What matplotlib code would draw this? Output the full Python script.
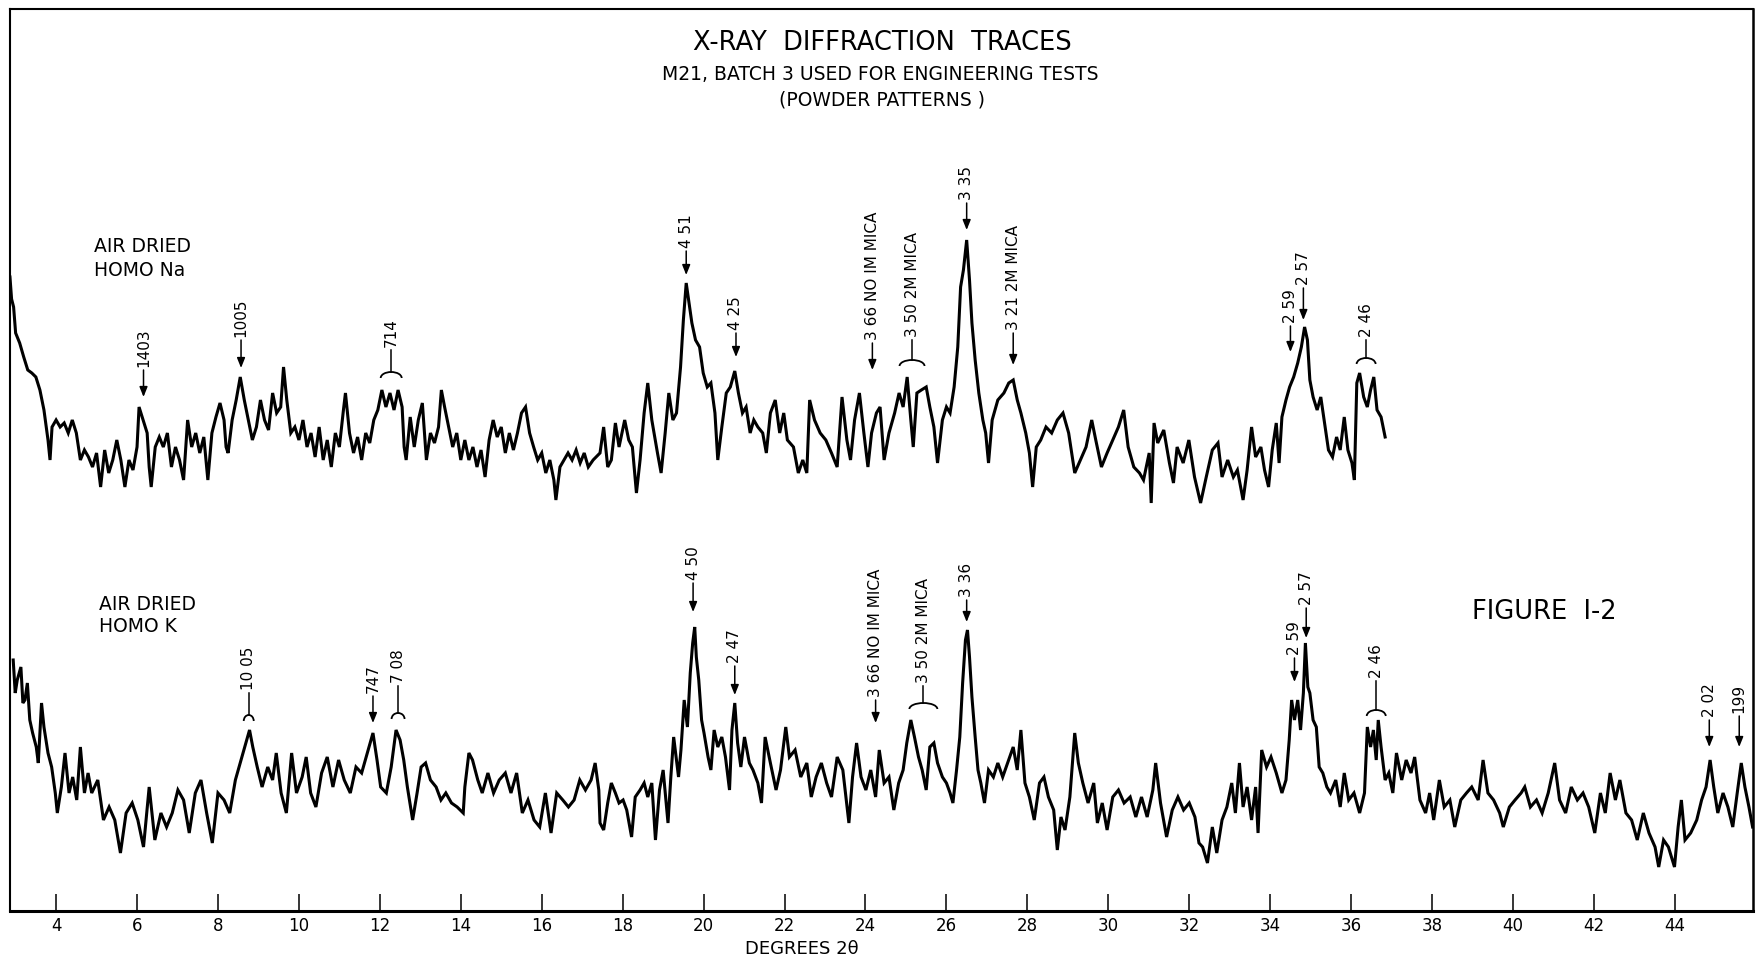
import matplotlib
matplotlib.use("Agg")
import matplotlib.pyplot as plt
from matplotlib.patches import Arc

plt.rcParams['font.family'] = ['DejaVu Sans']

# ---------------- data (2-theta in degrees, intensity in chart units) ----------------
na_points = [
    (2.86, 634), (2.90, 612), (2.95, 604), (3.00, 578), (3.10, 568), (3.20, 554), (3.30, 541),
    (3.40, 538), (3.50, 534), (3.60, 521), (3.70, 501), (3.80, 471), (3.85, 451), (3.90, 484),
    (4.00, 491), (4.10, 484), (4.20, 488), (4.30, 478), (4.40, 491), (4.50, 478), (4.60, 451),
    (4.70, 461), (4.80, 454), (4.90, 444), (5.00, 458), (5.10, 424), (5.20, 461), (5.30, 438),
    (5.40, 451), (5.50, 471), (5.60, 451), (5.70, 424), (5.80, 451), (5.90, 441), (6.00, 464),
    (6.05, 504), (6.15, 491), (6.25, 478), (6.30, 444), (6.35, 424), (6.45, 464), (6.55, 474),
    (6.65, 464), (6.75, 478), (6.85, 444), (6.95, 464), (7.05, 451), (7.15, 431), (7.25, 491),
    (7.35, 464), (7.45, 478), (7.55, 458), (7.65, 474), (7.75, 431), (7.85, 478), (7.95, 494),
    (8.05, 508), (8.15, 491), (8.20, 464), (8.25, 458), (8.35, 491), (8.45, 511), (8.55, 534),
    (8.65, 511), (8.75, 491), (8.85, 471), (8.95, 484), (9.05, 511), (9.15, 491), (9.25, 481),
    (9.35, 518), (9.45, 498), (9.55, 504), (9.62, 544), (9.70, 511), (9.80, 478), (9.90, 484),
    (10.00, 471), (10.10, 491), (10.20, 464), (10.30, 478), (10.40, 454), (10.50, 484),
    (10.60, 451), (10.70, 471), (10.80, 444), (10.90, 478), (11.00, 464), (11.10, 501),
    (11.15, 518), (11.25, 478), (11.35, 458), (11.45, 474), (11.55, 451), (11.65, 478),
    (11.75, 468), (11.85, 491), (11.95, 501), (12.05, 521), (12.15, 504), (12.25, 518),
    (12.35, 501), (12.45, 521), (12.55, 504), (12.60, 464), (12.65, 451), (12.75, 494),
    (12.85, 464), (12.95, 491), (13.05, 508), (13.15, 451), (13.25, 478), (13.35, 468),
    (13.45, 484), (13.52, 521), (13.60, 504), (13.70, 484), (13.80, 464), (13.90, 478),
    (14.00, 451), (14.10, 471), (14.20, 451), (14.30, 464), (14.40, 444), (14.50, 461),
    (14.60, 434), (14.70, 471), (14.80, 491), (14.90, 474), (15.00, 484), (15.10, 458),
    (15.20, 478), (15.30, 461), (15.40, 478), (15.50, 498), (15.60, 504), (15.70, 478),
    (15.80, 464), (15.90, 451), (16.00, 458), (16.10, 438), (16.20, 451), (16.30, 431),
    (16.35, 411), (16.45, 444), (16.55, 451), (16.65, 458), (16.75, 451), (16.85, 461),
    (16.95, 448), (17.05, 458), (17.15, 444), (17.27, 451),
    (17.44, 458), (17.53, 484), (17.63, 444), (17.72, 451), (17.82, 488), (17.91, 464),
    (18.05, 491), (18.15, 471), (18.24, 464), (18.34, 418), (18.43, 451), (18.53, 498),
    (18.62, 528), (18.72, 491), (18.86, 458), (18.95, 438), (19.05, 478), (19.14, 518),
    (19.24, 491), (19.33, 498), (19.43, 544), (19.50, 591), (19.57, 628), (19.63, 611),
    (19.71, 588), (19.80, 571), (19.90, 564), (19.99, 538), (20.09, 524), (20.18, 528),
    (20.28, 498), (20.35, 451), (20.45, 484), (20.56, 518), (20.66, 524), (20.77, 540),
    (20.86, 518), (20.96, 498), (21.05, 504), (21.15, 478), (21.24, 491), (21.34, 484),
    (21.46, 478), (21.55, 458), (21.65, 498), (21.77, 511), (21.88, 478), (21.98, 498),
    (22.07, 471), (22.22, 464), (22.34, 438), (22.45, 451), (22.55, 438), (22.62, 511),
    (22.74, 491), (22.88, 478), (23.02, 471), (23.16, 458), (23.30, 444), (23.42, 514),
    (23.54, 471), (23.63, 451), (23.73, 491), (23.85, 518), (23.96, 478), (24.06, 444),
    (24.15, 478), (24.27, 498), (24.36, 504), (24.46, 451), (24.58, 478), (24.72, 498),
    (24.83, 518), (24.93, 504), (25.03, 534), (25.12, 491), (25.18, 464), (25.27, 518),
    (25.38, 521), (25.50, 524), (25.59, 504), (25.69, 484), (25.78, 448), (25.90, 491),
    (26.00, 504), (26.09, 498), (26.19, 524), (26.28, 564), (26.35, 624), (26.42, 641),
    (26.50, 671), (26.57, 631), (26.63, 588), (26.71, 551), (26.80, 518), (26.90, 491),
    (26.97, 478), (27.04, 448), (27.13, 491), (27.27, 511), (27.42, 518), (27.54, 528),
    (27.65, 531), (27.75, 511), (27.84, 498), (27.96, 478), (28.05, 458), (28.13, 424),
    (28.22, 464), (28.33, 471), (28.46, 484), (28.60, 478), (28.74, 491), (28.88, 498),
    (29.02, 478), (29.17, 438), (29.31, 451), (29.45, 464), (29.59, 491), (29.69, 471),
    (29.83, 444), (29.97, 458), (30.11, 471), (30.25, 484), (30.38, 501), (30.49, 464),
    (30.63, 444), (30.77, 438), (30.87, 431), (31.01, 458), (31.06, 408),
    (31.13, 488), (31.22, 468), (31.37, 481), (31.51, 448), (31.61, 428), (31.70, 464),
    (31.85, 448), (31.99, 471), (32.13, 434), (32.28, 408), (32.42, 434), (32.57, 461),
    (32.71, 468), (32.81, 434), (32.95, 451), (33.09, 434), (33.19, 441), (33.33, 411),
    (33.43, 441), (33.54, 484), (33.64, 454), (33.77, 464), (33.86, 441), (33.96, 424),
    (34.05, 461), (34.15, 488), (34.22, 448), (34.29, 494), (34.39, 511), (34.48, 524),
    (34.58, 534), (34.68, 548), (34.77, 564), (34.85, 584), (34.92, 571), (34.98, 531),
    (35.06, 514), (35.16, 501), (35.25, 514), (35.37, 481), (35.44, 461), (35.54, 454),
    (35.64, 474), (35.73, 461), (35.83, 494), (35.92, 461), (36.02, 448), (36.08, 431),
    (36.14, 528), (36.21, 538), (36.31, 514), (36.40, 504), (36.48, 521), (36.56, 534),
    (36.64, 501), (36.74, 494), (36.84, 474),
]

k_points = [
    (2.94, 251), (2.99, 218), (3.04, 231), (3.13, 244), (3.18, 208), (3.23, 211), (3.29, 228),
    (3.35, 191), (3.42, 178), (3.51, 164), (3.56, 148), (3.64, 208), (3.70, 184), (3.80, 158),
    (3.89, 144), (3.98, 118), (4.03, 98), (4.13, 124), (4.22, 158), (4.32, 118), (4.41, 134),
    (4.51, 111), (4.60, 164), (4.70, 118), (4.79, 138), (4.88, 118), (5.03, 131), (5.17, 91),
    (5.31, 104), (5.45, 91), (5.59, 58), (5.73, 98), (5.88, 108), (6.02, 91), (6.16, 64),
    (6.30, 124), (6.44, 71), (6.59, 98), (6.73, 84), (6.87, 98), (7.01, 121), (7.15, 111),
    (7.29, 78), (7.44, 118), (7.58, 131), (7.72, 98), (7.86, 68), (8.00, 118), (8.15, 111),
    (8.29, 98), (8.43, 131), (8.57, 151), (8.71, 171), (8.78, 181), (8.86, 164), (8.97, 144),
    (9.09, 124), (9.23, 144), (9.35, 131), (9.44, 158), (9.56, 118), (9.69, 98), (9.82, 158),
    (9.94, 118), (10.08, 134), (10.18, 154), (10.29, 118), (10.42, 104), (10.56, 138),
    (10.70, 154), (10.84, 124), (10.98, 151), (11.12, 131), (11.27, 118), (11.41, 144),
    (11.55, 138), (11.69, 158), (11.83, 178), (11.93, 151), (12.02, 124), (12.16, 118),
    (12.28, 144), (12.40, 181), (12.50, 171), (12.59, 151), (12.68, 124), (12.81, 91),
    (12.92, 118), (13.02, 144), (13.13, 148), (13.25, 131), (13.39, 124), (13.51, 111),
    (13.63, 118), (13.77, 108), (13.91, 104), (14.06, 98), (14.10, 124), (14.20, 158),
    (14.29, 151), (14.42, 131), (14.53, 118), (14.67, 138), (14.81, 118), (14.95, 131),
    (15.10, 138), (15.24, 118), (15.38, 138), (15.52, 98), (15.66, 111), (15.81, 91),
    (15.95, 84), (16.09, 118), (16.23, 78), (16.37, 118), (16.52, 111), (16.66, 104),
    (16.80, 111), (16.94, 131), (17.08, 121), (17.22, 131), (17.32, 148), (17.41, 121),
    (17.44, 88), (17.53, 81), (17.63, 108), (17.72, 128), (17.82, 118), (17.91, 108),
    (18.01, 111), (18.10, 101), (18.22, 74), (18.31, 114), (18.43, 121), (18.53, 128),
    (18.62, 114), (18.72, 128), (18.81, 71), (18.91, 121), (19.00, 141), (19.12, 88),
    (19.19, 134), (19.26, 174), (19.38, 134), (19.44, 161), (19.52, 211), (19.60, 184),
    (19.67, 238), (19.73, 268), (19.78, 284), (19.82, 254), (19.88, 231), (19.95, 191),
    (20.01, 178), (20.11, 154), (20.18, 141), (20.26, 181), (20.35, 164), (20.45, 174),
    (20.54, 154), (20.64, 121), (20.70, 181), (20.77, 208), (20.84, 168), (20.92, 144),
    (21.01, 174), (21.13, 148), (21.22, 141), (21.34, 128), (21.43, 108), (21.52, 174),
    (21.65, 148), (21.79, 121), (21.90, 141), (22.03, 184), (22.12, 154), (22.26, 161),
    (22.40, 134), (22.55, 148), (22.66, 114), (22.78, 134), (22.91, 148), (23.04, 128),
    (23.16, 114), (23.30, 154), (23.44, 141), (23.59, 88), (23.68, 134), (23.78, 168),
    (23.89, 134), (24.01, 121), (24.13, 141), (24.25, 114), (24.34, 161), (24.46, 128),
    (24.58, 134), (24.70, 101), (24.82, 128), (24.93, 141), (25.02, 168), (25.12, 191),
    (25.21, 174), (25.31, 154), (25.40, 141), (25.50, 121), (25.59, 164), (25.69, 168),
    (25.78, 148), (25.90, 134), (26.00, 128), (26.09, 118), (26.16, 108), (26.25, 141),
    (26.33, 174), (26.40, 228), (26.47, 271), (26.52, 281), (26.57, 254), (26.63, 214),
    (26.71, 174), (26.78, 141), (26.85, 128), (26.94, 108), (27.04, 141), (27.16, 134),
    (27.27, 148), (27.39, 134), (27.51, 148), (27.65, 164), (27.75, 141), (27.84, 181),
    (27.94, 128), (28.05, 114), (28.17, 91), (28.30, 128), (28.41, 134), (28.52, 114),
    (28.65, 101), (28.74, 61), (28.83, 94), (28.93, 81), (29.05, 114), (29.17, 178),
    (29.26, 148), (29.37, 128), (29.50, 108), (29.64, 128), (29.73, 88), (29.85, 108),
    (29.97, 81), (30.11, 114), (30.25, 121), (30.39, 108), (30.54, 114), (30.68, 94),
    (30.82, 114), (30.96, 94), (31.10, 121), (31.17, 148), (31.29, 108), (31.44, 74),
    (31.58, 101), (31.72, 114), (31.86, 101), (32.00, 108), (32.14, 94), (32.24, 68),
    (32.33, 64), (32.45, 48), (32.57, 84), (32.68, 58), (32.81, 91), (32.93, 104),
    (33.05, 128), (33.14, 98), (33.24, 148), (33.33, 104), (33.43, 124), (33.54, 91),
    (33.64, 124), (33.70, 78), (33.79, 161), (33.91, 144), (34.02, 154), (34.15, 138),
    (34.29, 118), (34.39, 131), (34.47, 171), (34.53, 211), (34.60, 191), (34.68, 211),
    (34.75, 181), (34.82, 218), (34.87, 268), (34.93, 224), (34.98, 218), (35.06, 191),
    (35.14, 184), (35.21, 144), (35.30, 138), (35.40, 124), (35.49, 118), (35.62, 131),
    (35.73, 104), (35.83, 138), (35.94, 111), (36.07, 118), (36.21, 98), (36.33, 118),
    (36.40, 184), (36.48, 164), (36.55, 181), (36.62, 151), (36.67, 191), (36.74, 164),
    (36.84, 131), (36.93, 138), (37.03, 118), (37.12, 158), (37.25, 131), (37.36, 151),
    (37.48, 138), (37.57, 154), (37.70, 111), (37.84, 98), (37.94, 118), (38.04, 91),
    (38.18, 131), (38.30, 104), (38.44, 111), (38.56, 84), (38.71, 111), (38.85, 118),
    (38.98, 124), (39.14, 111), (39.26, 151), (39.38, 118), (39.52, 111), (39.67, 98),
    (39.76, 84), (39.91, 104), (40.05, 111), (40.20, 118), (40.29, 124), (40.43, 104),
    (40.58, 111), (40.72, 98), (40.87, 118), (41.03, 148), (41.15, 111), (41.30, 98),
    (41.44, 124), (41.59, 111), (41.73, 118), (41.87, 104), (42.02, 78), (42.16, 118),
    (42.28, 98), (42.40, 138), (42.53, 111), (42.64, 131), (42.79, 98), (42.93, 91),
    (43.07, 71), (43.22, 98), (43.36, 78), (43.51, 64), (43.60, 44), (43.72, 71),
    (43.84, 64), (43.99, 44), (44.08, 84), (44.16, 111), (44.25, 71), (44.39, 78),
    (44.54, 91), (44.66, 111), (44.77, 124), (44.87, 151), (44.96, 124), (45.06, 98),
    (45.19, 118), (45.31, 104), (45.43, 84), (45.54, 118), (45.64, 148), (45.73, 124),
    (45.83, 104), (45.92, 84),
]

# peak marks: (label, 2-theta, text base, pointer tip, style, bracket width in px)
na_marks = [
    ("1403", 6.16, 544, 514, "arrow", 0),
    ("1005", 8.57, 574, 543, "arrow", 0),
    ("714", 12.28, 564, 539, "bracket", 21),
    ("4 51", 19.57, 663, 636, "arrow", 0),
    ("4 25", 20.80, 581, 554, "arrow", 0),
    ("3 66 NO IM MICA", 24.17, 571, 541, "arrow", 0),
    ("3 50 2M MICA", 25.15, 574, 551, "bracket", 25),
    ("3 35", 26.50, 711, 681, "arrow", 0),
    ("3 21 2M MICA", 27.65, 581, 546, "arrow", 0),
    ("2 59", 34.50, 588, 559, "arrow", 0),
    ("2 57", 34.82, 626, 591, "arrow", 0),
    ("2 46", 36.37, 574, 553, "bracket", 19),
]
k_marks = [
    ("10 05", 8.76, 221, 196, "bracket", 10),
    ("747", 11.83, 218, 188, "arrow", 0),
    ("7 08", 12.45, 228, 198, "bracket", 13),
    ("4 50", 19.74, 331, 299, "arrow", 0),
    ("2 47", 20.77, 248, 216, "arrow", 0),
    ("3 66 NO IM MICA", 24.25, 214, 188, "arrow", 0),
    ("3 50 2M MICA", 25.43, 228, 208, "bracket", 28),
    ("3 36", 26.50, 314, 289, "arrow", 0),
    ("2 59", 34.60, 256, 229, "arrow", 0),
    ("2 57", 34.89, 306, 273, "arrow", 0),
    ("2 46", 36.62, 233, 201, "bracket", 19),
    ("2 02", 44.85, 194, 164, "arrow", 0),
    ("199", 45.59, 198, 164, "arrow", 0),
]

x_ticks = [4, 6, 8, 10, 12, 14, 16, 18, 20, 22, 24, 26, 28, 30, 32, 34, 36, 38, 40, 42, 44]
x_tick_labels = [str(t) for t in x_ticks]

# ---------------- figure ----------------
FW, FH, DPI = 1759, 961, 100
fig = plt.figure(figsize=(FW / DPI, FH / DPI), dpi=DPI)
fig.patch.set_facecolor("white")
ax = fig.add_axes([10 / FW, 50 / FH, (1753 - 10) / FW, (911 - 9) / FH])
XMIN, XMAX = 2.861, 45.93
ax.set_xlim(XMIN, XMAX)
ax.set_ylim(0, 902)
px_per_deg = (1753 - 10) / (XMAX - XMIN)

na_x, na_y = zip(*na_points)
k_x, k_y = zip(*k_points)
ax.plot(na_x, na_y, color="black", lw=2.2, solid_joinstyle="miter")
ax.plot(k_x, k_y, color="black", lw=2.2, solid_joinstyle="miter")

ANN_FS = 11


def draw_mark(label, x, base, tip, style, width):
    ax.text(x, base, label, rotation=90, ha="center", va="bottom",
            fontsize=ANN_FS, color="black")
    start = base - 3
    if style == "arrow":
        ax.annotate("", xy=(x, tip), xytext=(x, start),
                    arrowprops=dict(arrowstyle="-|>,head_length=0.5,head_width=0.2",
                                    lw=1.1, color="black", shrinkA=0, shrinkB=0,
                                    mutation_scale=12))
    else:
        ax.plot([x, x], [start, tip], color="black", lw=1.1)
        h = 6
        ax.add_patch(Arc((x, tip - h), width / px_per_deg, 2 * h, theta1=0, theta2=180,
                         color="black", lw=1.3))


for m in na_marks + k_marks:
    draw_mark(*m)

# axes styling
ax.set_xticks(x_ticks)
ax.set_xticklabels(x_tick_labels, fontsize=12)
ax.tick_params(axis="x", direction="in", length=12, width=1.1, pad=4, top=False)
ax.set_yticks([])
for side, lw in (("bottom", 2.2), ("left", 1.5), ("top", 1.5), ("right", 1.8)):
    ax.spines[side].set_linewidth(lw)
    ax.spines[side].set_color("black")


def ftext(x, y, s, **kw):
    fig.text(x / FW, 1 - y / FH, s, **kw)


ftext(882, 43, "X-RAY  DIFFRACTION  TRACES", fontsize=18.5, ha="center", va="center")
ftext(880, 75, "M21, BATCH 3 USED FOR ENGINEERING TESTS", fontsize=13.5, ha="center", va="center")
ftext(882, 100, "(POWDER PATTERNS )", fontsize=13.5, ha="center", va="center")
ftext(94, 247, "AIR DRIED", fontsize=13.5, ha="left", va="center")
ftext(94, 270, "HOMO Na", fontsize=13.5, ha="left", va="center")
ftext(99, 604, "AIR DRIED", fontsize=13.5, ha="left", va="center")
ftext(99, 627, "HOMO K", fontsize=13.5, ha="left", va="center")
ftext(1544, 612, "FIGURE  I-2", fontsize=18.5, ha="center", va="center")
ftext(802, 949, "DEGREES 2θ", fontsize=13, ha="center", va="center")

fig.savefig("out.png", dpi=DPI, facecolor="white")
